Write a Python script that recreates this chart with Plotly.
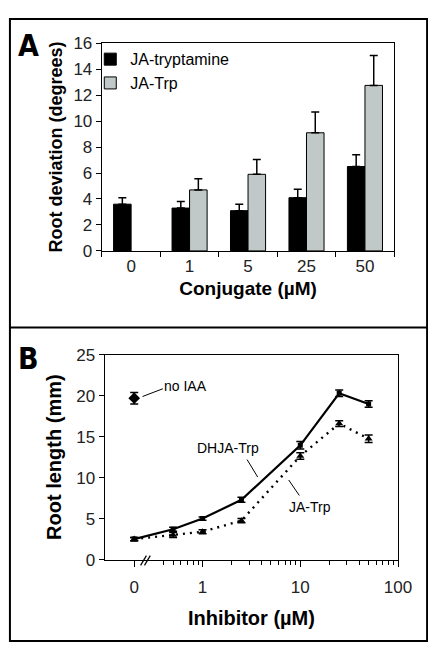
import plotly.graph_objects as go

# ---------------- Panel A data ----------------
conj_labels = ["0", "1", "5", "25", "50"]
tryptamine_vals = [3.6, 3.3, 3.1, 4.1, 6.5]
tryptamine_err = [0.5, 0.5, 0.5, 0.65, 0.9]
jatrp_vals = [None, 4.7, 5.9, 9.1, 12.75]
jatrp_err = [0, 0.85, 1.15, 1.6, 2.3]

# ---------------- Panel B data ----------------
inhib_conc = [0, 0.5, 1, 2.5, 10, 25, 50]
dhja_vals = [2.5, 3.7, 5.0, 7.3, 13.95, 20.3, 19.0]
dhja_err = [0.2, 0.25, 0.2, 0.3, 0.45, 0.4, 0.4]
jatrp_b_vals = [2.5, 3.0, 3.4, 4.75, 12.65, 16.6, 14.75]
jatrp_b_err = [0.2, 0.3, 0.25, 0.25, 0.4, 0.35, 0.45]
noiaa_val = [19.7]
noiaa_err = [0.7]
x_tick_vals = [0, 1, 10, 100]
x_tick_text = ["0", "1", "10", "100"]
ZERO_POS = 0.2  # where the "0" concentration is drawn on the log axis (axis break)

def pos(v):
    return ZERO_POS if v == 0 else v

W, H = 436, 646
def px(x):
    return x / W
def py(y):
    return 1 - y / H

FONT = "Liberation Sans, Arial, sans-serif"
TICKC = "#222"
LETTER_FONT = "Liberation Sans Narrow, DejaVu Sans Condensed, sans-serif"

fig = go.Figure()

fig.add_trace(go.Bar(
    x=conj_labels, y=tryptamine_vals, name="JA-tryptamine",
    marker=dict(color="#000000", line=dict(color="#000", width=1)),
    error_y=dict(type="data", array=tryptamine_err, arrayminus=[0]*5,
                 color="#000", thickness=1.5, width=4),
    xaxis="x", yaxis="y",
))
fig.add_trace(go.Bar(
    x=conj_labels, y=jatrp_vals, name="JA-Trp",
    marker=dict(color="#c0c8c8", line=dict(color="#000", width=1)),
    error_y=dict(type="data", array=jatrp_err, arrayminus=[0]*5,
                 color="#000", thickness=1.5, width=4),
    xaxis="x", yaxis="y",
))

xb = [pos(v) for v in inhib_conc]
fig.add_trace(go.Scatter(
    x=xb, y=dhja_vals, mode="lines+markers", name="DHJA-Trp",
    line=dict(color="#000", width=2.2),
    marker=dict(symbol="square", size=5, color="#000"),
    error_y=dict(type="data", array=dhja_err, color="#000", thickness=1.5, width=4),
    xaxis="x2", yaxis="y2", showlegend=False,
))
fig.add_trace(go.Scatter(
    x=xb, y=jatrp_b_vals, mode="lines+markers", name="JA-Trp (B)",
    line=dict(color="#000", width=2.4, dash="2px,5px"),
    marker=dict(symbol="triangle-up", size=7, color="#000"),
    error_y=dict(type="data", array=jatrp_b_err, color="#000", thickness=1.5, width=4),
    xaxis="x2", yaxis="y2", showlegend=False,
))
fig.add_trace(go.Scatter(
    x=[pos(0)], y=noiaa_val, mode="markers", name="no IAA",
    marker=dict(symbol="diamond", size=9, color="#000"),
    error_y=dict(type="data", array=noiaa_err, color="#000", thickness=1.5, width=4),
    xaxis="x2", yaxis="y2", showlegend=False,
))

minor_vals = [0.4, 0.5, 0.6, 0.7, 0.8, 0.9, 2, 3, 4, 5, 6, 7, 8, 9,
              20, 30, 40, 50, 60, 70, 80, 90]

fig.update_layout(
    width=W, height=H,
    margin=dict(l=0, r=0, t=0, b=0),
    paper_bgcolor="white", plot_bgcolor="white",
    font=dict(family=FONT, color="#000"),
    barmode="group", bargap=0.4, bargroupgap=0,
    showlegend=True,
    legend=dict(x=px(85), y=py(26), xanchor="left", yanchor="top",
                bgcolor="rgba(0,0,0,0)", font=dict(size=16, family=FONT),
                tracegroupgap=2, itemwidth=30),
    xaxis=dict(domain=[px(97), px(399)], anchor="y", type="category",
               showline=True, linecolor="#000", linewidth=1.3, mirror=True,
               ticks="outside", ticklen=5, tickson="boundaries", tickcolor="#000",
               tickfont=dict(size=17, color=TICKC),
               title=dict(text="<b>Conjugate (µM)</b>", font=dict(size=19), standoff=6),
               showgrid=False),
    yaxis=dict(domain=[py(241), py(27)], anchor="x", range=[0, 16], dtick=2,
               showline=True, linecolor="#000", linewidth=1.3, mirror=True,
               ticks="outside", ticklen=5, tickcolor="#000",
               tickfont=dict(size=17, color=TICKC),
               title=dict(text="<b>Root deviation (degrees)</b>", font=dict(size=18), standoff=6),
               showgrid=False, zeroline=False),
    xaxis2=dict(domain=[px(100), px(403)], anchor="y2", type="log", range=[-1.0, 2.0],
                tickmode="array",
                tickvals=[pos(v) for v in x_tick_vals], ticktext=x_tick_text,
                showline=True, linecolor="#000", linewidth=1.3, mirror=True,
                ticks="outside", ticklen=6, tickcolor="#000", ticklabelstandoff=6,
                minor=dict(tickmode="array", tickvals=minor_vals, ticks="outside",
                           ticklen=4, tickcolor="#000", showgrid=False),
                tickfont=dict(size=17, color=TICKC),
                title=dict(text="<b>Inhibitor (µM)</b>", font=dict(size=20), standoff=14),
                showgrid=False),
    yaxis2=dict(domain=[py(559), py(348)], anchor="x2", range=[0, 25], dtick=5,
                showline=True, linecolor="#000", linewidth=1.3, mirror=True,
                ticks="outside", ticklen=5, tickcolor="#000",
                tickfont=dict(size=17, color=TICKC),
                title=dict(text="<b>Root length (mm)</b>", font=dict(size=20), standoff=9),
                showgrid=False, zeroline=False),
)

shapes = [
    # outer frame and separator
    dict(type="rect", xref="paper", yref="paper", x0=px(2), y0=py(643), x1=px(433), y1=py(2),
         line=dict(color="#000", width=2)),
    dict(type="line", xref="paper", yref="paper", x0=px(2), y0=py(320), x1=px(433), y1=py(320),
         line=dict(color="#000", width=2)),
    # axis break marks
    dict(type="line", xref="paper", yref="paper", x0=px(137), y0=py(565), x1=px(143), y1=py(555),
         line=dict(color="#000", width=1.2)),
    dict(type="line", xref="paper", yref="paper", x0=px(141), y0=py(565), x1=px(147), y1=py(555),
         line=dict(color="#000", width=1.2)),
    # leader lines
    dict(type="line", xref="paper", yref="paper", x0=px(139), y0=py(391), x1=px(160), y1=py(383),
         line=dict(color="#000", width=1)),
    dict(type="line", xref="paper", yref="paper", x0=px(247), y0=py(456), x1=px(258), y1=py(474),
         line=dict(color="#000", width=1)),
    dict(type="line", xref="paper", yref="paper", x0=px(290), y0=py(477), x1=px(301), y1=py(493),
         line=dict(color="#000", width=1)),
]
fig.update_layout(shapes=shapes)

ann = [
    dict(text="<b>A</b>", x=px(21), y=py(29), font=dict(size=30, family=LETTER_FONT)),
    dict(text="<b>B</b>", x=px(21), y=py(352), font=dict(size=30, family=LETTER_FONT)),
    dict(text="no IAA", x=px(183), y=py(380), font=dict(size=14)),
    dict(text="DHJA-Trp", x=px(227), y=py(444), font=dict(size=14)),
    dict(text="JA-Trp", x=px(312), y=py(505), font=dict(size=14)),
]
for a in ann:
    fig.add_annotation(xref="paper", yref="paper", showarrow=False,
                       xanchor="center", yanchor="middle", **a)

fig.write_html("out.html")
